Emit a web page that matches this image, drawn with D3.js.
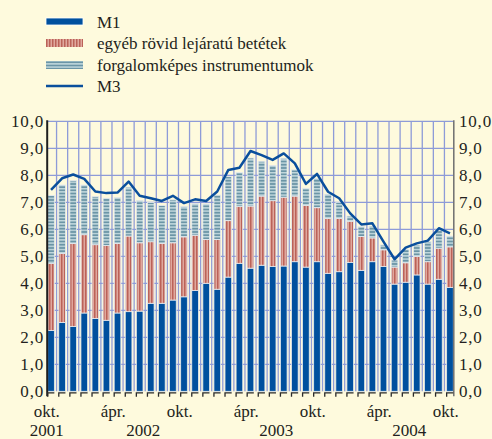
<!DOCTYPE html>
<html>
<head>
<meta charset="utf-8">
<script src="https://cdn.jsdelivr.net/npm/d3@7"></script>
<style>
  html, body { margin: 0; padding: 0; background: #fefadd; }
  text { font-family: "Liberation Serif", "Times New Roman", Times, "DejaVu Serif", "Noto Serif", serif; }
</style>
</head>
<body>
<div id="chart"></div>
<script>
// monthly data, okt. 2001 - okt. 2004
const months = ["2001-10","2001-11","2001-12",
  "2002-01","2002-02","2002-03","2002-04","2002-05","2002-06","2002-07","2002-08","2002-09","2002-10","2002-11","2002-12",
  "2003-01","2003-02","2003-03","2003-04","2003-05","2003-06","2003-07","2003-08","2003-09","2003-10","2003-11","2003-12",
  "2004-01","2004-02","2004-03","2004-04","2004-05","2004-06","2004-07","2004-08","2004-09","2004-10"];

const m1 = [2.25,2.55,2.40,2.90,2.70,2.63,2.90,2.95,2.97,3.26,3.26,3.38,3.50,3.73,4.00,3.78,4.23,4.74,4.56,4.67,
  4.62,4.64,4.80,4.60,4.80,4.37,4.43,4.77,4.48,4.80,4.62,3.97,4.04,4.31,3.97,4.15,3.85];
const egyeb = [2.49,2.55,3.07,2.90,2.73,2.77,2.58,2.80,2.53,2.28,2.22,2.12,2.22,2.05,1.62,1.84,2.09,2.10,2.30,2.56,
  2.44,2.55,2.43,2.28,2.00,2.03,1.97,1.53,1.25,0.88,0.62,0.63,0.72,0.69,0.83,1.15,1.50];
const forg = [2.51,2.54,2.33,1.84,1.78,1.75,1.69,1.81,1.56,1.45,1.40,1.59,1.12,1.17,1.32,1.65,1.63,1.26,1.78,1.29,
  1.30,1.44,0.97,0.64,1.08,0.90,0.60,0.19,0.37,0.44,0.18,0.26,0.50,0.42,0.74,0.67,0.40];
const m3 = [7.46,7.89,8.03,7.87,7.40,7.34,7.36,7.77,7.24,7.15,7.05,7.24,6.97,7.11,7.05,7.40,8.20,8.28,8.90,8.75,
  8.57,8.81,8.44,7.68,8.05,7.39,7.15,6.59,6.18,6.22,5.54,4.89,5.32,5.48,5.58,6.04,5.85];

const monthNames = { "04": "ápr.", "10": "okt." };
const yearLabels = ["2001", "2002", "2003", "2004"];
const yTicks = [0,1,2,3,4,5,6,7,8,9,10];
const legendItems = ["M1", "egyéb rövid lejáratú betétek", "forgalomképes instrumentumok", "M3"];

const W = 492, H = 439;
const plot = { left: 47.7, right: 453.3, top: 121.3, bottom: 391.3 };

const svg = d3.select("#chart").append("svg")
  .attr("width", W).attr("height", H)
  .style("display", "block");

svg.append("rect").attr("width", W).attr("height", H).attr("fill", "#fefadd");

// patterns
const defs = svg.append("defs");
const pRed = defs.append("pattern").attr("id", "pRed")
  .attr("patternUnits", "userSpaceOnUse").attr("width", 3).attr("height", 4);
pRed.append("rect").attr("width", 3).attr("height", 4).attr("fill", "#e0a89e");
pRed.append("rect").attr("x", 1).attr("width", 1.5).attr("height", 4).attr("fill", "#bb6258");

const pBlue = defs.append("pattern").attr("id", "pBlue")
  .attr("patternUnits", "userSpaceOnUse").attr("width", 4).attr("height", 3.2);
pBlue.append("rect").attr("width", 4).attr("height", 3.2).attr("fill", "#c3d9de");
pBlue.append("rect").attr("y", 0.6).attr("width", 4).attr("height", 1.8).attr("fill", "#6b95a6");

// scales
const x = d3.scaleBand().domain(months).range([plot.left, plot.right]).paddingInner(0.4).paddingOuter(0);
const y = d3.scaleLinear().domain([0, 10]).range([plot.bottom, plot.top]);
const step = x.step(), bw = x.bandwidth();

// grid
const grid = svg.append("g").attr("stroke", "#8e9bd8").attr("stroke-width", 1.3);
grid.selectAll(".h").data(yTicks.filter(d => d > 0)).enter().append("line")
  .attr("x1", plot.left).attr("x2", plot.right)
  .attr("y1", d => y(d)).attr("y2", d => y(d));
grid.selectAll(".v").data(months.slice(0, -1)).enter().append("line")
  .attr("x1", d => x(d) + bw + (step - bw) / 2).attr("x2", d => x(d) + bw + (step - bw) / 2)
  .attr("y1", plot.top).attr("y2", plot.bottom);

// stacked bars
const stackData = months.map((m, i) => ({ m, m1: m1[i], egyeb: egyeb[i], forg: forg[i] }));
const series = d3.stack().keys(["m1", "egyeb", "forg"])(stackData);
const fills = { m1: "#00509e", egyeb: "url(#pRed)", forg: "url(#pBlue)" };

svg.append("g").selectAll("g").data(series).enter().append("g")
  .attr("fill", d => fills[d.key])
  .selectAll("rect").data(d => d).enter().append("rect")
    .attr("x", d => x(d.data.m))
    .attr("y", d => y(d[1]))
    .attr("width", bw)
    .attr("height", d => y(d[0]) - y(d[1]))
    .attr("stroke", "#e4e9ee")
    .attr("stroke-width", 0.8);

// M3 line
svg.append("path")
  .datum(m3)
  .attr("fill", "none")
  .attr("stroke", "#0a4f9c")
  .attr("stroke-width", 2.5)
  .attr("stroke-linejoin", "round")
  .attr("d", d3.line().x((d, i) => x(months[i]) + bw / 2).y(d => y(d)));

// axes
svg.append("line").attr("x1", plot.left - 0.5).attr("x2", plot.left - 0.5)
  .attr("y1", plot.top - 1).attr("y2", plot.bottom + 5)
  .attr("stroke", "#1e1e1e").attr("stroke-width", 2);
svg.append("line").attr("x1", plot.right + 0.5).attr("x2", plot.right + 0.5)
  .attr("y1", plot.top - 1).attr("y2", plot.bottom + 5)
  .attr("stroke", "#6f6f6f").attr("stroke-width", 1.5);

const base = svg.append("g").attr("fill", "none").attr("stroke", "#2a2a2a").attr("stroke-width", 1.3);
base.selectAll("path").data(months).enter().append("path")
  .attr("d", d => `M${x(d)},${plot.bottom + 5.5}V${plot.bottom + 1.5}H${x(d) + bw}`);

// y labels
const fmt = d => d3.format(".1f")(d).replace(".", ",");
svg.append("g").selectAll("text").data(yTicks).enter().append("text")
  .attr("x", 44).attr("y", d => y(d) + 6)
  .attr("text-anchor", "end").attr("font-size", 17).attr("letter-spacing", 0.8)
  .attr("fill", "#231f20")
  .text(fmt);
svg.append("g").selectAll("text").data(yTicks).enter().append("text")
  .attr("x", 459).attr("y", d => y(d) + 6)
  .attr("text-anchor", "start").attr("font-size", 17).attr("letter-spacing", 0.8)
  .attr("fill", "#231f20")
  .text(fmt);

// x labels
const xLab = months.filter(m => monthNames[m.slice(5)]);
svg.append("g").selectAll("text").data(xLab).enter().append("text")
  .attr("x", d => x(d) - 1).attr("y", 417)
  .attr("text-anchor", "middle").attr("font-size", 17).attr("fill", "#231f20")
  .text(d => monthNames[d.slice(5)]);

svg.append("g").selectAll("text").data(yearLabels).enter().append("text")
  .attr("x", d => {
    const idx = months.indexOf(d + "-01");
    if (idx < 0) return x(months[0]) - 1;
    return x(months[idx]) + (11 * step + bw) / 2 - 2;
  })
  .attr("y", 436)
  .attr("text-anchor", "middle").attr("font-size", 17).attr("fill", "#231f20")
  .text(d => d);

// legend
const leg = svg.append("g");
const ly = [21.5, 43, 65, 86];
leg.append("rect").attr("x", 46).attr("y", ly[0] - 3.5).attr("width", 37).attr("height", 7)
  .attr("fill", "#00509e").attr("stroke", "#fff").attr("stroke-width", 0.8);
leg.append("rect").attr("x", 46).attr("y", ly[1] - 4).attr("width", 37).attr("height", 8)
  .attr("fill", "url(#pRed)");
leg.append("rect").attr("x", 46).attr("y", ly[2] - 4).attr("width", 37).attr("height", 8)
  .attr("fill", "url(#pBlue)");
leg.append("line").attr("x1", 46).attr("x2", 83).attr("y1", ly[3]).attr("y2", ly[3])
  .attr("stroke", "#0a4f9c").attr("stroke-width", 2.5);
leg.selectAll("text").data(legendItems).enter().append("text")
  .attr("x", 97).attr("y", (d, i) => ly[i] + 6)
  .attr("font-size", 17).attr("fill", "#231f20")
  .text(d => d);
</script>
</body>
</html>
